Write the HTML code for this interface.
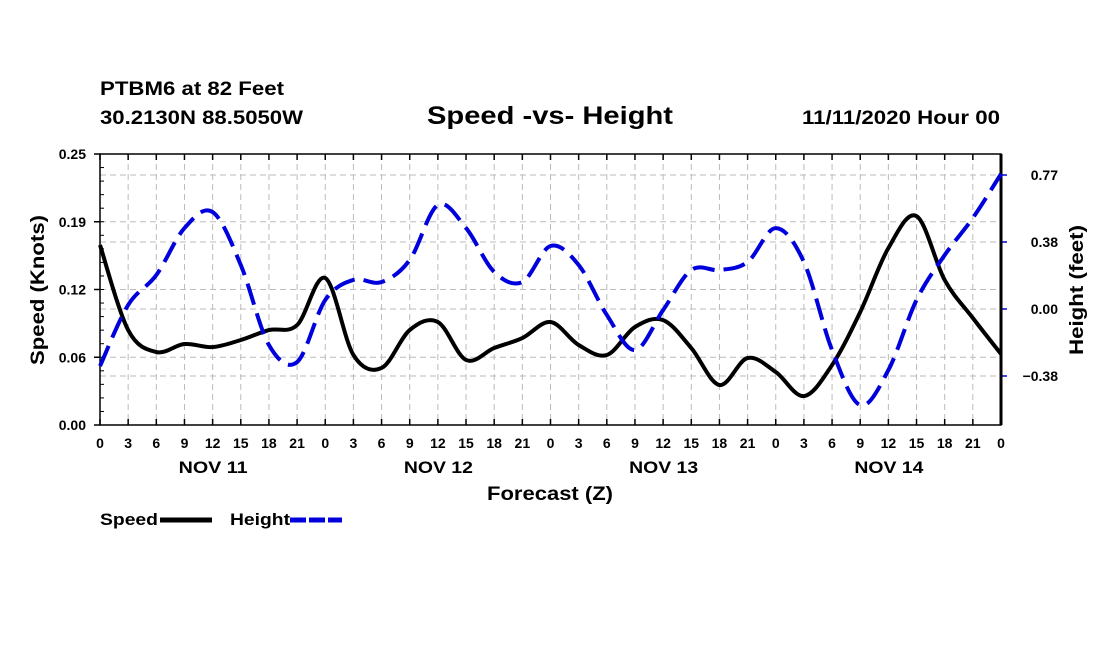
<!DOCTYPE html>
<html><head><meta charset="utf-8"><style>
body{margin:0;background:#fff}
svg text{font-family:"Liberation Sans",sans-serif;font-weight:bold;fill:#000}
</style></head><body>
<svg id="c" width="1100" height="650">
<text x="100" y="95" font-size="19" textLength="184" lengthAdjust="spacingAndGlyphs">PTBM6 at 82 Feet</text>
<text x="100" y="124" font-size="19" textLength="203" lengthAdjust="spacingAndGlyphs">30.2130N 88.5050W</text>
<text x="427" y="124" font-size="25" textLength="246" lengthAdjust="spacingAndGlyphs">Speed -vs- Height</text>
<text x="802" y="124" font-size="19" textLength="198" lengthAdjust="spacingAndGlyphs">11/11/2020 Hour 00</text>
<g id="grid"></g><g id="axes"></g><g id="series"></g>
<text x="487" y="500" font-size="19" textLength="126" lengthAdjust="spacingAndGlyphs">Forecast (Z)</text>
<text transform="translate(44,290) rotate(-90)" x="-75" font-size="19" textLength="150" lengthAdjust="spacingAndGlyphs">Speed (Knots)</text>
<text transform="translate(1083,290) rotate(-90)" x="-65" font-size="19" textLength="130" lengthAdjust="spacingAndGlyphs">Height (feet)</text>
<g><text x="100" y="525" font-size="17" textLength="58" lengthAdjust="spacingAndGlyphs">Speed</text><line x1="160" y1="520" x2="212" y2="520" stroke="#000" stroke-width="5"/></g>
<g><text x="230" y="525" font-size="17" textLength="60" lengthAdjust="spacingAndGlyphs">Height</text><line x1="290" y1="520" x2="342" y2="520" stroke="#0000dd" stroke-width="5" stroke-dasharray="16,3"/></g>
</svg>
<script>
const hours=[0,3,6,9,12,15,18,21,0,3,6,9,12,15,18,21,0,3,6,9,12,15,18,21,0,3,6,9,12,15,18,21,0];
const dayLabels=["NOV 11","NOV 12","NOV 13","NOV 14"];
const speedTicks=[0,0.0625,0.125,0.1875,0.25];
const speedTickLabels=["0.00","0.06","0.12","0.19","0.25"];
const heightTicks=[-0.385,0,0.385,0.77];
const heightTickLabels=["\u22120.38","0.00","0.38","0.77"];
const speed=[0.166,0.0876,0.0673,0.0747,0.0719,0.0784,0.0876,0.0922,0.1356,0.0646,0.0526,0.0876,0.095,0.06,0.071,0.0802,0.095,0.0738,0.0646,0.0904,0.0968,0.071,0.0369,0.0618,0.0489,0.0267,0.0553,0.1042,0.1632,0.1927,0.1337,0.0987,0.0655];
const height=[-0.328,0.023,0.195,0.465,0.557,0.253,-0.207,-0.305,0.052,0.167,0.155,0.282,0.598,0.465,0.213,0.155,0.362,0.253,-0.034,-0.236,-0.006,0.224,0.224,0.27,0.465,0.27,-0.236,-0.552,-0.351,0.052,0.31,0.523,0.776];
const L=100,R=1001,T=154,B=425,NS="http://www.w3.org/2000/svg";
const x=i=>L+(R-L)*i/(hours.length-1);
const yS=v=>B-(B-T)*v/0.25;
const yH=v=>309-v*67/0.385;
function mk(p,t,a){const e=document.createElementNS(NS,t);for(const k in a)e.setAttribute(k,a[k]);p.appendChild(e);return e;}
const grid=document.getElementById('grid'),axes=document.getElementById('axes'),ser=document.getElementById('series');
hours.forEach((h,i)=>{if(i>0&&i<hours.length-1){const g=mk(grid,'line',{x1:x(i),x2:x(i),y1:T,y2:B,stroke:'#bbb','stroke-dasharray':'6,4'});

}
mk(axes,'line',{x1:x(i),x2:x(i),y1:B,y2:B-6,stroke:'#000','stroke-width':1.5});
mk(axes,'line',{x1:x(i),x2:x(i),y1:T,y2:T+6,stroke:'#000','stroke-width':1.5});
const t=mk(axes,'text',{x:x(i),y:448,'font-size':14,'text-anchor':'middle'});t.textContent=h;

});
dayLabels.forEach((d,k)=>{const t=mk(axes,'text',{x:x(k*8+4)-34,y:473,'font-size':17,textLength:69,lengthAdjust:'spacingAndGlyphs'});t.textContent=d;

});
speedTicks.forEach((v,k)=>{if(k>0&&k<speedTicks.length-1){const g=mk(grid,'line',{x1:L,x2:R,y1:yS(v),y2:yS(v),stroke:'#bbb','stroke-dasharray':'6,4'});

}
mk(axes,'line',{x1:L-6,x2:L,y1:yS(v),y2:yS(v),stroke:'#000','stroke-width':1.5});
const t=mk(axes,'text',{x:L-14,y:yS(v)+5,'font-size':14,'text-anchor':'end'});t.textContent=speedTickLabels[k];

});
for(let v=0;v<=0.25;v+=0.0125){mk(axes,'line',{x1:L,x2:L+4,y1:yS(v),y2:yS(v),stroke:'#000'});}
heightTicks.forEach((v,k)=>{const g=mk(grid,'line',{x1:L,x2:R,y1:yH(v),y2:yH(v),stroke:'#bbb','stroke-dasharray':'6,4'});


mk(axes,'line',{x1:R,x2:R+6,y1:yH(v),y2:yH(v),stroke:'#0000dd','stroke-width':1.5});
const t=mk(axes,'text',{x:1058,y:yH(v)+5,'font-size':14,'text-anchor':'end'});t.textContent=heightTickLabels[k];

});
mk(axes,'rect',{x:L,y:T,width:R-L,height:B-T,fill:'none',stroke:'#000','stroke-width':1.5});
mk(axes,'line',{x1:R,x2:R,y1:T,y2:B,stroke:'#000','stroke-width':3});
function path(pts){let d=`M${pts[0][0]},${pts[0][1]}`;for(let i=0;i<pts.length-1;i++){const p0=pts[Math.max(0,i-1)],p1=pts[i],p2=pts[i+1],p3=pts[Math.min(pts.length-1,i+2)];
d+=` C${p1[0]+(p2[0]-p0[0])/6},${p1[1]+(p2[1]-p0[1])/6} ${p2[0]-(p3[0]-p1[0])/6},${p2[1]-(p3[1]-p1[1])/6} ${p2[0]},${p2[1]}`;}return d;}
const s=mk(ser,'path',{d:path(speed.map((v,i)=>[x(i),yS(v)])),fill:'none',stroke:'#000','stroke-width':4});


const h=mk(ser,'path',{d:path(height.map((v,i)=>[x(i),yH(v)])),fill:'none',stroke:'#0000dd','stroke-width':4,'stroke-dasharray':'22,9'});


</script>
</body></html>
